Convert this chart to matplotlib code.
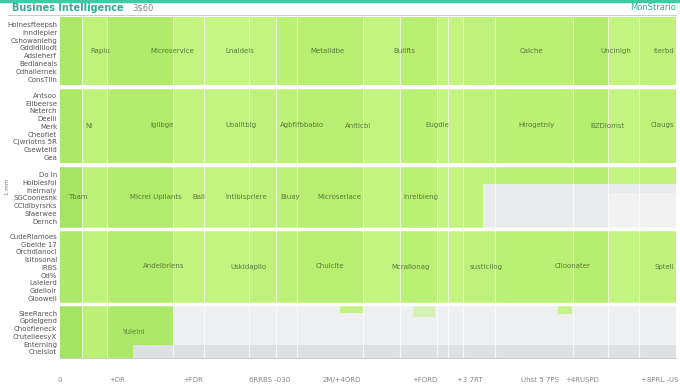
import numpy as np
import matplotlib.pyplot as plt
from matplotlib.colors import LinearSegmentedColormap

# column edges (value axis) and shade of each cell per row
edges = [0, 22, 47, 113, 144, 189, 216, 237, 303, 340, 377, 388, 403, 435, 513, 548, 579, 616]
shades = [
    [0.75, 0.30, 0.65, 0.20, 0.15, 0.20, 0.40, 0.50, 0.20, 0.50, 0.20, 0.20, 0.30, 0.45, 0.60, 0.20, 0.30],
    [0.75, 0.30, 0.60, 0.25, 0.20, 0.30, 0.35, 0.50, 0.20, 0.45, 0.20, 0.20, 0.30, 0.45, 0.55, 0.20, 0.30],
    [0.85, 0.35, 0.60, 0.25, 0.20, 0.30, 0.35, 0.50, 0.20, 0.45, 0.20, 0.20, 0.30, 0.45, 0.55, 0.20, 0.30],
    [0.70, 0.30, 0.60, 0.25, 0.20, 0.30, 0.35, 0.50, 0.20, 0.45, 0.20, 0.20, 0.30, 0.45, 0.55, 0.20, 0.30],
    [0.90, 0.40, 0.70, 0.30],
]
row_labels = [
    "Holnesfteepsh\nInndlepler\nCshowanlehg\nGddldlllodt\nAdsleherf\nBedlaneals\nCdhallernek\nConsTlin",
    "Antsoo\nEllbeerse\nNeterch\nDeelli\nMerk\nCheofiet\nCjwrlotns 5R\nCsewtelld\nGea",
    "Do In\nHolblesfol\nIhelrnaly\nSGCoonesnk\nCCldlbyrsrks\nSfaerwee\nDernch",
    "CudeRlamoes\nGbelde 17\nOrchdlanocl\nIsltosonal\nIRBS\nOd%\nLalelerd\nGdelloir\nGloowell",
    "SleeRarech\nGpdelgend\nChoofleneck\nCrutelleesyX\nEnterning\nCnelslot",
]
cell_texts = [
    [(30, "Rapiu"), (90, "Microservice"), (165, "Lnaldels"), (250, "Metalldbe"),
     (333, "Bullfts"), (460, "Calche"), (540, "Uncinlgh"), (614, "Iterbd")],
    [(25, "Ni"), (90, "Igllbge"), (165, "Uoailtblg"), (220, "Agbflfbbablo"),
     (285, "Anltlcbl"), (365, "Eugdle"), (458, "Hirogetnly"), (530, "BZDlomst"), (614, "Claugs")],
    [(8, "Tbam"), (70, "Micrel Upllants"), (132, "Ball"), (165, "Intlblsprlere"),
     (220, "Bluay"), (257, "Microserlace"), (343, "Inrelbleng")],
    [(83, "Andelbrlens"), (170, "Uskldapllo"), (256, "Chulclte"), (331, "Mcrallonag"),
     (410, "sustlcllog"), (495, "Clloonater"), (614, "Sptell")],
    [(62, "Yulelni")],
]
x_ticks = [0, 57, 133, 210, 282, 365, 410, 480, 522, 600]
x_ticklabels = ["0", "+DR", "+FDR", "6RRBS -030", "2M/+4ORD", "+FORD", "+3 7RT",
                "Uhst 5 7PS", "+4RUSPD", "+8PRL -US"]

# layout: row tops/heights in pixel-like units (y axis inverted)
row_top = [0, 71, 149, 213, 288]
row_h = [68, 75, 62, 73, 53]

cmap = LinearSegmentedColormap.from_list("g", ["#cbf78a", "#b8ef70", "#9ee15c"])

fig = plt.figure(figsize=(6.8, 3.89), dpi=100)
ax = fig.add_axes([60 / 680, 1 - 358 / 389, 616 / 680, 341 / 389])
ax.set_xlim(0, 616)
ax.set_ylim(341, 0)

for r in range(5):
    y0, h = row_top[r], row_h[r]
    for c, s in enumerate(shades[r]):
        ax.barh(y0 + h / 2, edges[c + 1] - edges[c], left=edges[c], height=h,
                color=cmap(s), edgecolor="none")
    for xv, t in cell_texts[r]:
        ha = "right" if xv > 600 else "left"
        ax.text(xv, y0 + h / 2, t, fontsize=5, color="#5a7a3a", va="center", ha=ha)

# grey remainders of rows 3 and 5
ax.barh(149 + 40, 616 - 423, left=423, height=44, color="#e9ebee", edgecolor="none")
ax.barh(149 + 46, 616 - 548, left=548, height=38, color="#f2f2f2", edgecolor="none")
ax.barh(288 + 20, 616 - 113, left=113, height=40, color="#eeeff0", edgecolor="none")
ax.barh(288 + 46, 616 - 73, left=73, height=13, color="#dde1e4", edgecolor="none")
ax.barh(288 + 4, 23, left=280, height=8, color="#c3f27f", edgecolor="none")
ax.barh(288 + 6, 22, left=353, height=12, color="#d6f0b5", edgecolor="none")
ax.barh(288 + 5, 14, left=498, height=8, color="#c8f38a", edgecolor="none")

# white gaps between columns and rows
for e in edges[1:-1]:
    ax.axvline(e, color="white", lw=0.8, alpha=0.7)
for r in range(1, 5):
    ax.axhline(row_top[r] - 1.5, color="white", lw=2.5)

ax.set_yticks([row_top[r] + row_h[r] / 2 for r in range(5)])
ax.set_yticklabels(row_labels, fontsize=5, color="#555555", linespacing=1.35)
ax.set_xticks(x_ticks)
ax.set_xticklabels(x_ticklabels, fontsize=5, color="#888888")
ax.tick_params(length=0, pad=14)
ax.tick_params(axis="y", pad=2)
for sp in ax.spines.values():
    sp.set_visible(False)
ax.spines["bottom"].set_visible(True)
ax.spines["bottom"].set_color("#cccccc")

fig.text(0.007, 0.52, "1 mm", rotation=90, fontsize=4, color="#777777", va="center")
fig.text(12 / 680, 1 - 8 / 389, "Busines Intelligence", fontsize=7, color="#2fae9a",
         va="center", fontweight="bold")
fig.text(132 / 680, 1 - 8 / 389, "3$60", fontsize=6, color="#888888", va="center")
fig.text(676 / 680, 1 - 8 / 389, "MonStrario", fontsize=6, color="#2fae9a", va="center", ha="right")
fig.add_artist(plt.Line2D([0, 1], [0.997, 0.997], color="#3ccba3", lw=2.5))
fig.add_artist(plt.Line2D([8 / 680, 676 / 680], [1 - 15 / 389] * 2, color="#cccccc", lw=0.7))

fig.savefig("out.png", dpi=100)
